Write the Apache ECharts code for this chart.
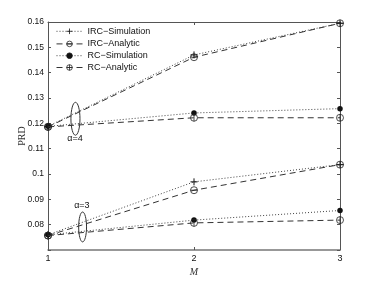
<!DOCTYPE html>
<html>
<head>
<meta charset="utf-8">
<script src="https://cdn.jsdelivr.net/npm/echarts@6/dist/echarts.min.js"></script>
<style>html,body{margin:0;padding:0;background:#fff}#c{width:374px;height:281px}</style>
</head>
<body>
<div id="c"></div>
<script>
var M = [1, 2, 3];
var ircSim4 = [0.1188, 0.1470, 0.1595];
var ircAna4 = [0.1186, 0.1461, 0.1595];
var rcSim4  = [0.1188, 0.1241, 0.1258];
var rcAna4  = [0.1186, 0.1222, 0.1222];
var ircSim3 = [0.0760, 0.0969, 0.1037];
var ircAna3 = [0.0757, 0.0936, 0.1037];
var rcSim3  = [0.0760, 0.0818, 0.0856];
var rcAna3  = [0.0757, 0.0807, 0.0818];
var yTicks = [0.07, 0.08, 0.09, 0.10, 0.11, 0.12, 0.13, 0.14, 0.15, 0.16];
var xTicks = [1, 2, 3];
var names = ['IRC\u2212Simulation', 'IRC\u2212Analytic', 'RC\u2212Simulation', 'RC\u2212Analytic'];
// annotation: [M, PRD center, half-width in M, half-height in PRD, label, label M, label PRD]
var ann4 = [1.188, 0.1218, 0.031, 0.0065, '\u03b1=4', 1.185, 0.1139];
var ann3 = [1.237, 0.0791, 0.027, 0.0059, '\u03b1=3', 1.232, 0.0877];

function pairs(ys){ return M.map(function(m,i){ return [m, ys[i]]; }); }

var plusSym = 'path://M5,0L5,10M0,5L10,5';
var thetaSym = 'path://M10,5A5,5,0,1,1,0,5A5,5,0,1,1,10,5ZM0,5L10,5';
var phiSym = 'path://M10,5A5,5,0,1,1,0,5A5,5,0,1,1,10,5ZM5,0L5,10';

var styles = [
  {symbol: plusSym, size: 7, line: {type: [1, 2], color: '#444', width: 1}, item: {color: 'none', borderColor: '#111', borderWidth: 1}},
  {symbol: thetaSym, size: 7, line: {type: [6, 4], color: '#333', width: 1}, item: {color: 'none', borderColor: '#222', borderWidth: 0.8}},
  {symbol: 'circle', size: 5.5, line: {type: [1, 2], color: '#444', width: 1}, item: {color: '#111', borderColor: '#111', borderWidth: 0}},
  {symbol: phiSym, size: 7, line: {type: [6, 4], color: '#333', width: 1}, item: {color: 'none', borderColor: '#222', borderWidth: 0.8}}
];
var dataSets = [[ircSim4, ircSim3], [ircAna4, ircAna3], [rcSim4, rcSim3], [rcAna4, rcAna3]];

var series = [];
dataSets.forEach(function(ds, k){
  ds.forEach(function(ys){
    var s = styles[k];
    series.push({
      name: names[k], type: 'line', data: pairs(ys),
      symbol: s.symbol, symbolSize: s.size, showSymbol: true,
      lineStyle: s.line, itemStyle: s.item, animation: false, z: 3 + k
    });
  });
});

function fmt(v){ if (Math.abs(v - 0.07) < 1e-9) return ''; return String(parseFloat(v.toFixed(2))); }

var axisLine = {show: true, lineStyle: {color: '#555', width: 1}};
var chart = echarts.init(document.getElementById('c'), null, {renderer: 'canvas'});
chart.setOption({
  animation: false,
  backgroundColor: '#fff',
  textStyle: {fontFamily: 'Liberation Sans'},
  grid: {left: 48, right: 34, top: 22, bottom: 31, containLabel: false, outerBoundsMode: 'none'},
  legend: {
    data: names, orient: 'vertical', left: 56, top: 26, itemWidth: 26, itemHeight: 7, itemGap: 2,
    lineStyle: {width: 1}, itemStyle: {borderWidth: 0.8},
    textStyle: {fontSize: 9, color: '#111', fontFamily: 'Liberation Sans'}, padding: 0
  },
  xAxis: [
    {type: 'value', min: 1, max: 3, interval: 1, position: 'bottom', axisLine: {show: true, lineStyle: {color: '#777', width: 1.5}},
     axisTick: {inside: true, length: 3, lineStyle: {color: '#555'}}, splitLine: {show: false},
     axisLabel: {fontSize: 9, color: '#111', margin: 4}, name: 'M', nameLocation: 'middle', nameGap: 17, nameMoveOverlap: false,
     nameTextStyle: {fontFamily: 'Liberation Serif', fontStyle: 'italic', fontSize: 10, color: '#333'}},
    {type: 'value', min: 1, max: 3, interval: 1, position: 'top', axisLine: axisLine,
     axisTick: {inside: true, length: 3, lineStyle: {color: '#555'}}, splitLine: {show: false}, axisLabel: {show: false}}
  ],
  yAxis: [
    {type: 'value', min: 0.07, max: 0.16, interval: 0.01, position: 'left', axisLine: axisLine,
     axisTick: {inside: true, length: 3, lineStyle: {color: '#555'}}, splitLine: {show: false},
     axisLabel: {fontSize: 8.5, color: '#111', margin: 4, formatter: fmt},
     name: 'PRD', nameLocation: 'middle', nameGap: 26, nameRotate: 90, nameMoveOverlap: false,
     nameTextStyle: {fontFamily: 'Liberation Serif', fontSize: 10, color: '#333', verticalAlign: 'middle'}},
    {type: 'value', min: 0.07, max: 0.16, interval: 0.01, position: 'right', axisLine: axisLine,
     axisTick: {inside: true, length: 3, lineStyle: {color: '#555'}}, splitLine: {show: false}, axisLabel: {show: false}}
  ],
  series: series
});

function annGraphics(a){
  var c = chart.convertToPixel({gridIndex: 0}, [a[0], a[1]]);
  var e = chart.convertToPixel({gridIndex: 0}, [a[0] + a[2], a[1] + a[3]]);
  var l = chart.convertToPixel({gridIndex: 0}, [a[5], a[6]]);
  var rx = Math.abs(e[0] - c[0]), ry = Math.abs(e[1] - c[1]);
  return [
    {type: 'ellipse', shape: {cx: c[0], cy: c[1], rx: rx, ry: ry}, style: {fill: 'none', stroke: '#333', lineWidth: 1}, z: 10},
    {type: 'text', x: l[0], y: l[1], style: {text: a[4], fontSize: 9, fill: '#111', fontFamily: 'Liberation Sans', align: 'center', verticalAlign: 'middle'}, z: 10}
  ];
}
chart.setOption({graphic: annGraphics(ann4).concat(annGraphics(ann3))});
</script>
</body>
</html>
